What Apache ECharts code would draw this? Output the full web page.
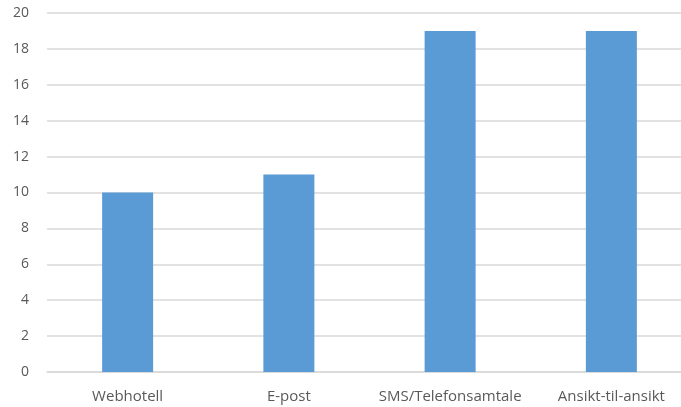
<!DOCTYPE html>
<html>
<head>
<meta charset="utf-8">
<script src="https://cdn.jsdelivr.net/npm/echarts@6/dist/echarts.min.js"></script>
<style>
  html, body { margin: 0; padding: 0; background: #fff; overflow: hidden; }
  #chart { width: 692px; height: 407px; }
</style>
</head>
<body>
<div id="chart"></div>
<script>
// Kanaler og antall svar
const categories = ['Webhotell', 'E-post', 'SMS/Telefonsamtale', 'Ansikt-til-ansikt'];
const values = [10, 11, 19, 19];
const yTicks = { min: 0, max: 20, interval: 2 };

const chart = echarts.init(document.getElementById('chart'), null, { renderer: 'canvas' });
const font = 'Open Sans';

chart.setOption({
  animation: false,
  grid: { left: 47, top: 13, right: 0, bottom: 35, containLabel: false },
  xAxis: {
    type: 'category',
    data: categories,
    axisLine: { show: true, lineStyle: { color: '#d9d9d9', width: 1.5 } },
    axisTick: { show: false },
    axisLabel: { interval: 0, margin: 17, color: '#595959', fontSize: 15, fontFamily: font }
  },
  yAxis: {
    type: 'value',
    min: yTicks.min,
    max: yTicks.max,
    interval: yTicks.interval,
    axisLine: { show: false },
    axisTick: { show: false },
    splitLine: { lineStyle: { color: '#d9d9d9', width: 1.5 } },
    axisLabel: { margin: 18, color: '#595959', fontSize: 14, fontFamily: font }
  },
  series: [{
    type: 'bar',
    data: values,
    barWidth: 51,
    itemStyle: { color: '#5b9bd5' }
  }]
});
</script>
</body>
</html>
